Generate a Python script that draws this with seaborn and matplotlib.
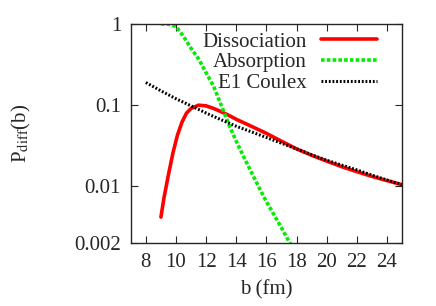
import numpy as np
import pandas as pd
import matplotlib
matplotlib.use("Agg")
import matplotlib.pyplot as plt
import seaborn as sns

# values
b_diss = [9.0, 9.2, 9.5, 9.8, 10.1, 10.4, 10.7, 11.0, 11.5, 12.0, 12.5, 13.0, 13.5, 14.0, 15.0, 16.0, 17.0, 18.0, 19.0, 20.0, 21.0, 22.0, 23.0, 24.0, 25.0]
p_diss = [0.0042, 0.0072, 0.014, 0.026, 0.043, 0.062, 0.080, 0.091, 0.100, 0.098, 0.091, 0.083, 0.075, 0.067, 0.055, 0.045, 0.036, 0.029, 0.0242, 0.0205, 0.0175, 0.0152, 0.0133, 0.0118, 0.0105]

b_abs = [9.0, 9.5, 10.0, 10.5, 11.0, 11.5, 12.0, 12.5, 13.0, 13.5, 14.0, 14.5, 15.0, 15.5, 16.0, 16.5, 17.0, 17.5, 18.0]
p_abs = [1.0, 0.99, 0.93, 0.70, 0.50, 0.37, 0.25, 0.17, 0.10, 0.058, 0.036, 0.023, 0.015, 0.0098, 0.0065, 0.0045, 0.0031, 0.0021, 0.0015]

b_e1 = [8.0, 9.0, 10.0, 11.0, 12.0, 13.0, 14.0, 15.0, 16.0, 17.0, 18.0, 19.0, 20.0, 21.0, 22.0, 23.0, 24.0, 25.0]
p_e1 = [0.19, 0.15, 0.12, 0.098, 0.080, 0.066, 0.055, 0.047, 0.040, 0.034, 0.029, 0.0245, 0.021, 0.0183, 0.016, 0.0138, 0.012, 0.0105]

x_ticks = [8, 10, 12, 14, 16, 18, 20, 22, 24]
y_ticks = [1, 0.1, 0.01, 0.002]
y_labels = ["1", "0.1", "0.01", "0.002"]

sns.set_style("ticks")
plt.rcParams['font.family'] = ['Liberation Serif', 'DejaVu Serif']
plt.rcParams['mathtext.fontset'] = 'stix'

fig, ax = plt.subplots(figsize=(4.36, 3.06), dpi=100)
fig.subplots_adjust(left=0.30, right=0.922, top=0.922, bottom=0.205)

sns.lineplot(x=b_diss, y=p_diss, ax=ax, color='#ff0000', lw=2.6, label='Dissociation')
sns.lineplot(x=b_abs, y=p_abs, ax=ax, color='#00ee00', lw=2.6, label='Absorption')
sns.lineplot(x=b_e1, y=p_e1, ax=ax, color='black', lw=2.2, label='E1 Coulex')
ax.lines[1].set_dashes([1.0, 0.6])
ax.lines[2].set_dashes([0.6, 0.6])

ax.set_yscale('log')
ax.set_xlim(7, 25)
ax.set_ylim(0.002, 1)
ax.set_xticks(x_ticks)
ax.set_yticks(y_ticks)
ax.set_yticklabels(y_labels)
ax.minorticks_off()
ax.tick_params(direction='in', top=True, right=True, length=5, width=0.8, labelsize=15, pad=7)
for s in ax.spines.values():
    s.set_linewidth(1.0)

ax.set_xlabel('b (fm)', fontsize=15, labelpad=6)
ax.set_ylabel(r'P$_{\rm diff}$(b)', fontsize=15, labelpad=30)

leg = ax.legend(loc='upper right', frameon=False, markerfirst=False, fontsize=15,
                handlelength=2.7, labelspacing=0.05, borderaxespad=0.0, handletextpad=0.7,
                bbox_to_anchor=(0.94, 1.0))
for t in leg.get_texts():
    t.set_ha('right')

fig.savefig('out.png', dpi=100)
